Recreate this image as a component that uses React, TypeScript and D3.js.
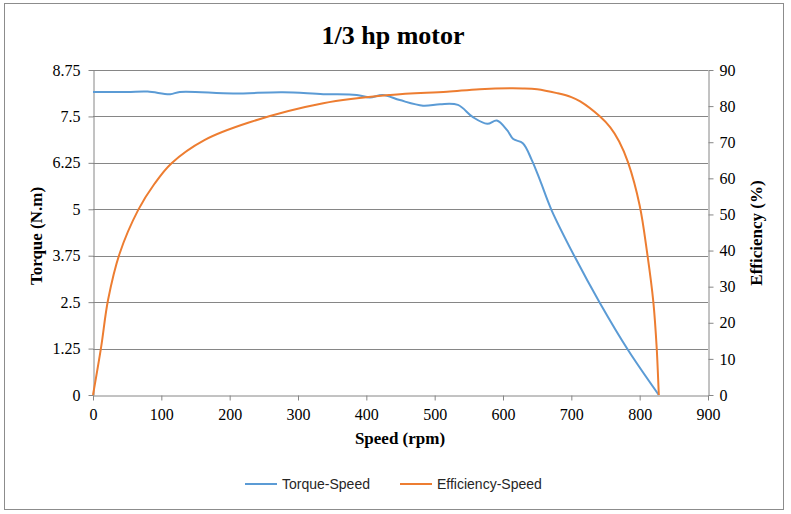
import { useEffect, useRef } from "react";
import * as d3 from "d3";

const torqueSpeed = [0, 50, 80, 113, 127, 205, 278, 337, 386, 405, 424, 449, 483, 508, 534, 556, 577, 591, 606, 615, 629, 642, 654, 671, 705, 742, 783, 828];
const torqueVals  = [8.16, 8.16, 8.17, 8.10, 8.16, 8.12, 8.15, 8.10, 8.08, 8.01, 8.08, 7.94, 7.79, 7.83, 7.81, 7.48, 7.30, 7.39, 7.13, 6.89, 6.78, 6.33, 5.79, 4.98, 3.72, 2.47, 1.21, 0];

const effSpeed = [0, 12, 22, 39, 66, 90, 115, 163, 227, 337, 435, 518, 566, 629, 650, 679, 700, 713, 742, 757, 770, 783, 800, 811, 820, 825, 828];
const effVals  = [0, 13.4, 26.3, 39.2, 51.2, 58.5, 64.2, 70.6, 75.4, 80.8, 83.1, 84.0, 84.7, 84.9, 84.7, 83.6, 82.5, 81.3, 77.1, 74.1, 70.2, 64.4, 52.5, 39.3, 25.8, 12.8, 0];

const xTicks = [0, 100, 200, 300, 400, 500, 600, 700, 800, 900];
const torqueTicks = [0, 1.25, 2.5, 3.75, 5, 6.25, 7.5, 8.75];
const effTicks = [0, 10, 20, 30, 40, 50, 60, 70, 80, 90];

const BLUE = "#5b9bd5";
const ORANGE = "#ed7d31";
const GRID = "#868686";
const SERIF = "'Liberation Serif','Times New Roman',serif";
const SANS = "'Liberation Sans',Arial,sans-serif";

export default function App() {
  const svgRef = useRef<SVGSVGElement>(null);

  useEffect(() => {
    if (!svgRef.current) return;
    const svg = d3.select(svgRef.current);
    svg.selectAll("*").remove();
    const W = 791, H = 514;
    const L = 93, R = 708, T = 70, B = 395;

    svg.append("rect").attr("x", 0).attr("y", 0).attr("width", W).attr("height", H).attr("fill", "#fff");
    svg.append("rect").attr("x", 4.5).attr("y", 3.5).attr("width", 779).attr("height", 506)
      .attr("fill", "none").attr("stroke", "#8c8c8c").attr("stroke-width", 1);

    const x = d3.scaleLinear().domain([0, 900]).range([L, R]);
    const yT = d3.scaleLinear().domain([0, 8.75]).range([B, T]);
    const yE = d3.scaleLinear().domain([0, 90]).range([B, T]);

    // gridlines follow the torque axis
    svg.append("g").selectAll("line").data(torqueTicks.slice(1)).join("line")
      .attr("x1", L).attr("x2", R).attr("y1", d => Math.round(yT(d)) + 0.5).attr("y2", d => Math.round(yT(d)) + 0.5)
      .attr("stroke", GRID).attr("stroke-width", 1);

    const axisStyle = (g: d3.Selection<SVGGElement, unknown, null, undefined>) => {
      g.select(".domain").attr("stroke", GRID);
      g.selectAll(".tick line").attr("stroke", GRID);
      g.selectAll("text").attr("font-family", SERIF).attr("font-size", "16px").attr("fill", "#000");
    };

    svg.append("g").attr("transform", `translate(0,${B + 0.5})`)
      .call(d3.axisBottom(x).tickValues(xTicks).tickSize(5).tickSizeOuter(0).tickPadding(8).tickFormat(d3.format("d")))
      .call(axisStyle);
    svg.append("g").attr("transform", `translate(${L + 0.5},0)`)
      .call(d3.axisLeft(yT).tickValues(torqueTicks).tickSize(5).tickSizeOuter(0).tickPadding(8).tickFormat(d => String(d)))
      .call(axisStyle);
    svg.append("g").attr("transform", `translate(${R + 0.5},0)`)
      .call(d3.axisRight(yE).tickValues(effTicks).tickSize(5).tickSizeOuter(0).tickPadding(6).tickFormat(d3.format("d")))
      .call(axisStyle);

    const torqueLine = d3.line<number>().x((_, i) => x(torqueSpeed[i])).y(d => yT(d)).curve(d3.curveCatmullRom.alpha(0.5));
    const effLine = d3.line<number>().x((_, i) => x(effSpeed[i])).y(d => yE(d)).curve(d3.curveCatmullRom.alpha(0.5));

    svg.append("path").datum(torqueVals).attr("d", torqueLine).attr("fill", "none").attr("stroke", BLUE).attr("stroke-width", 2);
    svg.append("path").datum(effVals).attr("d", effLine).attr("fill", "none").attr("stroke", ORANGE).attr("stroke-width", 2);

    svg.append("text").attr("x", 393).attr("y", 44).attr("text-anchor", "middle")
      .attr("font-family", SERIF).attr("font-size", "26px").attr("font-weight", "700").text("1/3 hp motor");
    svg.append("text").attr("x", 400).attr("y", 444).attr("text-anchor", "middle")
      .attr("font-family", SERIF).attr("font-size", "17px").attr("font-weight", "700").text("Speed (rpm)");
    svg.append("text").attr("transform", "translate(42,236) rotate(-90)").attr("text-anchor", "middle")
      .attr("font-family", SERIF).attr("font-size", "17px").attr("font-weight", "700").text("Torque (N.m)");
    svg.append("text").attr("transform", "translate(762,233) rotate(-90)").attr("text-anchor", "middle")
      .attr("font-family", SERIF).attr("font-size", "17px").attr("font-weight", "700").text("Efficiency (%)");

    const legend = [
      { label: "Torque-Speed", color: BLUE, x: 245 },
      { label: "Efficiency-Speed", color: ORANGE, x: 400 },
    ];
    const lg = svg.append("g");
    lg.selectAll("line").data(legend).join("line")
      .attr("x1", d => d.x).attr("x2", d => d.x + 32).attr("y1", 484).attr("y2", 484)
      .attr("stroke", d => d.color).attr("stroke-width", 2);
    lg.selectAll("text").data(legend).join("text")
      .attr("x", d => d.x + 37).attr("y", 489)
      .attr("font-family", SANS).attr("font-size", "14px").attr("fill", "#262626").text(d => d.label);
  }, []);

  return <svg ref={svgRef} width={791} height={514} style={{ position: "absolute", left: 0, top: 0 }} />;
}
